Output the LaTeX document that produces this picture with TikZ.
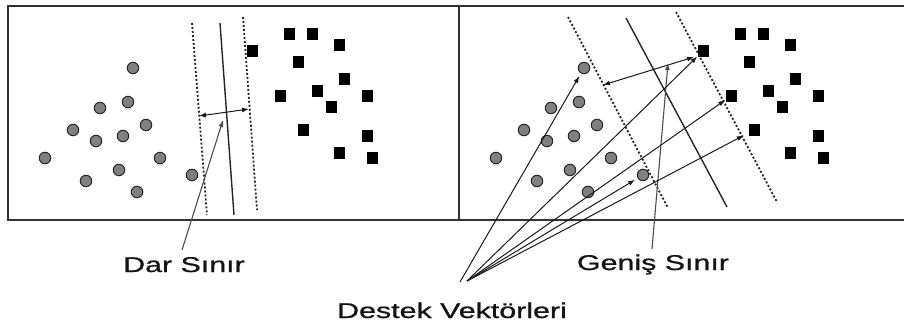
\documentclass[tikz,border=0pt]{standalone}
\usepackage{fontspec}
\setmainfont{Liberation Sans}
\newfontfamily\lblfont[FakeBold=0.8]{Liberation Sans}
\usetikzlibrary{arrows.meta}
\newcommand\mylbl[1]{\scalebox{1.42}[1]{\lblfont\fontsize{21.4}{25}\selectfont #1}}
\begin{document}
\begin{tikzpicture}[x=1pt,y=-1pt,
  frame/.style={draw=black!80, line width=1.3pt},
  sep/.style={draw=black!85, line width=1.4pt},
  marg/.style={draw=black!85, line width=1.8pt, dash pattern=on 2pt off 2pt},
  dot/.style={circle, draw=black!85, fill=black!50, line width=1pt, minimum size=11.5pt, inner sep=0pt},
  sq/.style={fill=black, minimum width=11pt, minimum height=12pt, inner sep=0pt},
  arr/.style={draw=black!90, line width=1pt, -{Latex[length=7pt,width=5pt]}},
  darr/.style={draw=black!90, line width=1pt, {Latex[length=7pt,width=5pt]}-{Latex[length=7pt,width=5pt]}},
  ptr/.style={draw=black!70, line width=1.1pt, -{Latex[length=7pt,width=5pt]}},
  lbl/.style={anchor=base, inner sep=0pt, text=black!92}]
\useasboundingbox (0,0) rectangle (904,324);
% frame
\coordinate (tl) at (8,6);
\coordinate (bl) at (8,220);
\coordinate (tr) at (904,6);
\coordinate (br) at (904,220);
\coordinate (mt) at (459,6);
\coordinate (mb) at (459,220);
\draw[frame] (tr) -- (tl) -- (bl) -- (br);
\draw[frame] (mt) -- (mb);
% points
\foreach \x/\y [count=\i] in {133/68,128/102,100/108,73/130,96/141,123/136,146/125,45/158,160/158,119/170,86/181,137/192,192/175}{
  \node[dot] (L\i) at (\x,\y) {};
  \node[dot] (R\i) at (\x+451,\y) {};
}
\foreach \x/\y [count=\i] in {289/34,312/34,339/45,252/51,298/62,344/79,280/96,317/91,367/96,331/107,303/130,367/136,339/153,372/158}{
  \node[sq] (LS\i) at (\x,\y) {};
  \node[sq] (RS\i) at (\x+451,\y) {};
}
% left panel lines
\coordinate (la1) at (192,23);  \coordinate (la2) at (207,215);
\coordinate (ls1) at (220,23);  \coordinate (ls2) at (234,215);
\coordinate (lb1) at (243,17);  \coordinate (lb2) at (257,210);
\draw[marg] (la1) -- (la2);
\draw[sep] (ls1) -- (ls2);
\draw[marg] (lb1) -- (lb2);
\coordinate (ld1) at (199,116); \coordinate (ld2) at (249,109);
\draw[darr] (ld1) -- (ld2);
% right panel lines
\coordinate (ra1) at (568,17);  \coordinate (ra2) at (668,208);
\coordinate (rs1) at (626,18);  \coordinate (rs2) at (727,207);
\coordinate (rb1) at (676,12);  \coordinate (rb2) at (777,202);
\draw[marg] (ra1) -- (ra2);
\draw[sep] (rs1) -- (rs2);
\draw[marg] (rb1) -- (rb2);
\coordinate (rd1) at (603,85); \coordinate (rd2) at (694,57);
\draw[darr] (rd1) -- (rd2);
% labels
\node[lbl] (dar) at (184,272) {\mylbl{Dar Sınır}};
\node[lbl] (gen) at (653,270) {\mylbl{Geniş Sınır}};
\node[lbl] (des) at (452,318) {\mylbl{Destek Vektörleri}};
% pointers
\coordinate (darp) at (182,250);
\coordinate (darq) at (223,120);
\draw[ptr] (darp) -- (darq);
\coordinate (genp) at (652,249);
\coordinate (genq) at (668,63);
\draw[ptr] (genp) -- (genq);
\coordinate (fanA) at (460,282);
\coordinate (fanB) at (467,281);
\draw[arr, shorten >=3pt] (fanA) -- (R1);
\draw[arr] (fanB) -- (RS4);
\draw[arr] (fanB) -- (RS7);
\draw[arr, shorten >=5pt] (fanB) -- (RS11);
\draw[arr, shorten >=3pt] (fanB) -- (R13);
\end{tikzpicture}
\end{document}
